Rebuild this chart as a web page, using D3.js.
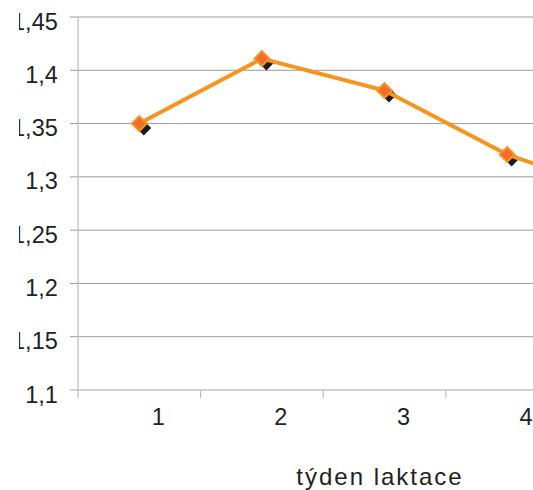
<!DOCTYPE html>
<html>
<head>
<meta charset="utf-8">
<script src="https://cdn.jsdelivr.net/npm/d3@7"></script>
<style>
  html, body { margin: 0; padding: 0; background: #fff; overflow: hidden; }
  svg { display: block; font-family: "Liberation Sans", Arial, sans-serif; }
</style>
</head>
<body>
<svg id="chart" width="533" height="490"></svg>
<script>
// Week of lactation and the measured mean per week
const weeks = ["1", "2", "3", "4", "5"];
const values = [1.35, 1.411, 1.381, 1.321, 1.282];
const yTicks = [1.1, 1.15, 1.2, 1.25, 1.3, 1.35, 1.4, 1.45];
const xTitle = "týden laktace";

const svg = d3.select("#chart");
const W = 533, H = 490;

const plotLeft = 78, plotBottom = 390, plotTop = 17, bandW = 122.6;

const x = d3.scaleBand().domain(weeks).range([plotLeft, plotLeft + bandW * weeks.length]).paddingInner(0).paddingOuter(0);
const y = d3.scaleLinear().domain([1.1, 1.45]).range([plotBottom, plotTop]);

const fmt = d3.formatLocale({ decimal: ",", thousands: " ", grouping: [3], currency: ["", ""] }).format("~g");

// clip for the left edge of the value labels
const defs = svg.append("defs");
defs.append("clipPath").attr("id", "labelClip")
  .append("rect").attr("x", 19).attr("y", 0).attr("width", W).attr("height", H);

// horizontal gridlines with short ticks left of the axis
svg.append("g").selectAll("line").data(yTicks.filter(d => d > 1.1)).join("line")
  .attr("x1", plotLeft - 8).attr("x2", W + 400)
  .attr("y1", d => y(d)).attr("y2", d => y(d))
  .attr("stroke", "#9a9a9a").attr("stroke-width", 1);

// vertical axis
svg.append("line")
  .attr("x1", plotLeft).attr("x2", plotLeft).attr("y1", plotTop).attr("y2", plotBottom + 8)
  .attr("stroke", "#bdbdbd").attr("stroke-width", 1.2);

// horizontal axis and category ticks
svg.append("line")
  .attr("x1", plotLeft - 8).attr("x2", W + 400).attr("y1", plotBottom).attr("y2", plotBottom)
  .attr("stroke", "#a8a8a8").attr("stroke-width", 1.2);
svg.append("g").selectAll("line").data(weeks).join("line")
  .attr("x1", d => x(d) + x.bandwidth()).attr("x2", d => x(d) + x.bandwidth())
  .attr("y1", plotBottom).attr("y2", plotBottom + 8)
  .attr("stroke", "#bdbdbd").attr("stroke-width", 1.2);

// value labels
svg.append("g").attr("clip-path", "url(#labelClip)")
  .selectAll("text").data(yTicks).join("text")
  .attr("x", 57.8)
  .attr("y", d => y(d) + 12.5)
  .attr("text-anchor", "end")
  .attr("font-size", 23.5)
  .attr("fill", "#222")
  .text(d => fmt(d));

// category labels
svg.append("g").selectAll("text").data(weeks).join("text")
  .attr("x", d => x(d) + x.bandwidth() / 2 + 19)
  .attr("y", plotBottom + 35)
  .attr("text-anchor", "middle")
  .attr("font-size", 23.5)
  .attr("fill", "#222")
  .text(d => d);

// axis title
svg.append("text")
  .attr("x", 380)
  .attr("y", 485)
  .attr("text-anchor", "middle")
  .attr("font-size", 24)
  .attr("letter-spacing", 2)
  .attr("fill", "#222")
  .text(xTitle);

const pts = weeks.map((w, i) => [x(w) + x.bandwidth() / 2, y(values[i])]);
const diamond = d3.symbol().type(d3.symbolDiamond2).size(140);

// marker shadows
svg.append("g").selectAll("path").data(pts).join("path")
  .attr("d", diamond)
  .attr("transform", d => `translate(${d[0] + 4.5},${d[1] + 4.5})`)
  .attr("fill", "#1c1c1c");

// series line
svg.append("path")
  .datum(pts)
  .attr("d", d3.line())
  .attr("fill", "none")
  .attr("stroke", "#f7941e")
  .attr("stroke-width", 4)
  .attr("stroke-linejoin", "round");

// markers
svg.append("g").selectAll("path").data(pts).join("path")
  .attr("d", diamond)
  .attr("transform", d => `translate(${d[0]},${d[1]})`)
  .attr("fill", "#f36c2c")
  .attr("stroke", "#f7941e")
  .attr("stroke-width", 2);
</script>
</body>
</html>
